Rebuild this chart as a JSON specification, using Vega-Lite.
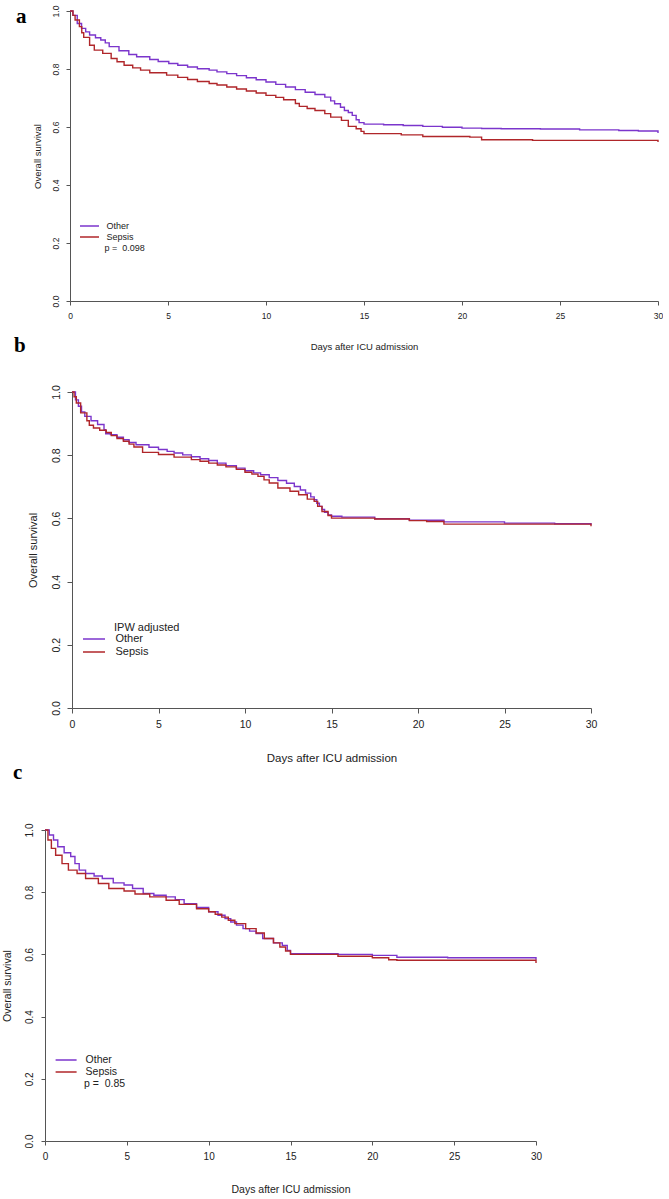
{
  "$schema": "https://vega.github.io/schema/vega-lite/v6.json",
  "padding": {"left": 2, "top": 5, "right": 0, "bottom": 0},
  "bounds": "flush",
  "spacing": 91,
  "resolve": {"scale": {"color": "independent"}, "legend": {"color": "independent"}},
  "config": {
    "view": {"stroke": null},
    "font": "Liberation Sans",
    "axis": {"grid": false, "domainColor": "#555", "tickColor": "#555", "labelColor": "#222", "titleColor": "#222", "titleFontWeight": "normal", "labelFont": "Liberation Sans", "titleFont": "Liberation Sans", "labelFlush": false, "labelOverlap": false}
  },
  "datasets": {
    "km": [
      {"panel":"a","group":"Other","day":0,"survival":1},
      {"panel":"a","group":"Other","day":0.15,"survival":0.985},
      {"panel":"a","group":"Other","day":0.37,"survival":0.957},
      {"panel":"a","group":"Other","day":0.59,"survival":0.94},
      {"panel":"a","group":"Other","day":0.8,"survival":0.928},
      {"panel":"a","group":"Other","day":1.0,"survival":0.917},
      {"panel":"a","group":"Other","day":1.3,"survival":0.908},
      {"panel":"a","group":"Other","day":1.57,"survival":0.9},
      {"panel":"a","group":"Other","day":1.8,"survival":0.89},
      {"panel":"a","group":"Other","day":2.0,"survival":0.877},
      {"panel":"a","group":"Other","day":2.5,"survival":0.863},
      {"panel":"a","group":"Other","day":3.0,"survival":0.85},
      {"panel":"a","group":"Other","day":3.4,"survival":0.842},
      {"panel":"a","group":"Other","day":4.07,"survival":0.833},
      {"panel":"a","group":"Other","day":4.5,"survival":0.826},
      {"panel":"a","group":"Other","day":5.04,"survival":0.819},
      {"panel":"a","group":"Other","day":5.5,"survival":0.813},
      {"panel":"a","group":"Other","day":6.0,"survival":0.807},
      {"panel":"a","group":"Other","day":6.5,"survival":0.801},
      {"panel":"a","group":"Other","day":7.1,"survival":0.796},
      {"panel":"a","group":"Other","day":7.5,"survival":0.79},
      {"panel":"a","group":"Other","day":8.0,"survival":0.784},
      {"panel":"a","group":"Other","day":8.5,"survival":0.777},
      {"panel":"a","group":"Other","day":9.0,"survival":0.77},
      {"panel":"a","group":"Other","day":9.5,"survival":0.763},
      {"panel":"a","group":"Other","day":10.0,"survival":0.755},
      {"panel":"a","group":"Other","day":10.5,"survival":0.747},
      {"panel":"a","group":"Other","day":11.0,"survival":0.738},
      {"panel":"a","group":"Other","day":11.5,"survival":0.729},
      {"panel":"a","group":"Other","day":12.0,"survival":0.72},
      {"panel":"a","group":"Other","day":12.5,"survival":0.712},
      {"panel":"a","group":"Other","day":13.0,"survival":0.703},
      {"panel":"a","group":"Other","day":13.3,"survival":0.69},
      {"panel":"a","group":"Other","day":13.5,"survival":0.68},
      {"panel":"a","group":"Other","day":13.8,"survival":0.668},
      {"panel":"a","group":"Other","day":14.0,"survival":0.657},
      {"panel":"a","group":"Other","day":14.2,"survival":0.65},
      {"panel":"a","group":"Other","day":14.4,"survival":0.64},
      {"panel":"a","group":"Other","day":14.6,"survival":0.625},
      {"panel":"a","group":"Other","day":14.75,"survival":0.615},
      {"panel":"a","group":"Other","day":15.0,"survival":0.61},
      {"panel":"a","group":"Other","day":16,"survival":0.608},
      {"panel":"a","group":"Other","day":17,"survival":0.605},
      {"panel":"a","group":"Other","day":18,"survival":0.602},
      {"panel":"a","group":"Other","day":19,"survival":0.599},
      {"panel":"a","group":"Other","day":20,"survival":0.596},
      {"panel":"a","group":"Other","day":21,"survival":0.595},
      {"panel":"a","group":"Other","day":22,"survival":0.594},
      {"panel":"a","group":"Other","day":24,"survival":0.593},
      {"panel":"a","group":"Other","day":26,"survival":0.59},
      {"panel":"a","group":"Other","day":28,"survival":0.588},
      {"panel":"a","group":"Other","day":29,"survival":0.586},
      {"panel":"a","group":"Other","day":30,"survival":0.586},
      {"panel":"a","group":"Other","day":30,"survival":0.579},
      {"panel":"a","group":"Sepsis","day":0,"survival":1},
      {"panel":"a","group":"Sepsis","day":0.15,"survival":0.985},
      {"panel":"a","group":"Sepsis","day":0.26,"survival":0.969},
      {"panel":"a","group":"Sepsis","day":0.48,"survival":0.946},
      {"panel":"a","group":"Sepsis","day":0.6,"survival":0.925},
      {"panel":"a","group":"Sepsis","day":0.7,"survival":0.909},
      {"panel":"a","group":"Sepsis","day":1.0,"survival":0.882},
      {"panel":"a","group":"Sepsis","day":1.24,"survival":0.865},
      {"panel":"a","group":"Sepsis","day":1.67,"survival":0.854},
      {"panel":"a","group":"Sepsis","day":2.1,"survival":0.836},
      {"panel":"a","group":"Sepsis","day":2.4,"survival":0.825},
      {"panel":"a","group":"Sepsis","day":2.76,"survival":0.813},
      {"panel":"a","group":"Sepsis","day":3.2,"survival":0.804},
      {"panel":"a","group":"Sepsis","day":3.6,"survival":0.796},
      {"panel":"a","group":"Sepsis","day":4.07,"survival":0.787},
      {"panel":"a","group":"Sepsis","day":4.93,"survival":0.779},
      {"panel":"a","group":"Sepsis","day":5.5,"survival":0.771},
      {"panel":"a","group":"Sepsis","day":6.0,"survival":0.764},
      {"panel":"a","group":"Sepsis","day":6.5,"survival":0.757},
      {"panel":"a","group":"Sepsis","day":7.1,"survival":0.75},
      {"panel":"a","group":"Sepsis","day":7.5,"survival":0.745},
      {"panel":"a","group":"Sepsis","day":8.0,"survival":0.738},
      {"panel":"a","group":"Sepsis","day":8.5,"survival":0.731},
      {"panel":"a","group":"Sepsis","day":9.0,"survival":0.724},
      {"panel":"a","group":"Sepsis","day":9.5,"survival":0.717},
      {"panel":"a","group":"Sepsis","day":10.0,"survival":0.709},
      {"panel":"a","group":"Sepsis","day":10.5,"survival":0.702},
      {"panel":"a","group":"Sepsis","day":10.9,"survival":0.694},
      {"panel":"a","group":"Sepsis","day":11.5,"survival":0.681},
      {"panel":"a","group":"Sepsis","day":11.7,"survival":0.671},
      {"panel":"a","group":"Sepsis","day":12.1,"survival":0.664},
      {"panel":"a","group":"Sepsis","day":12.5,"survival":0.657},
      {"panel":"a","group":"Sepsis","day":13.0,"survival":0.646},
      {"panel":"a","group":"Sepsis","day":13.3,"survival":0.634},
      {"panel":"a","group":"Sepsis","day":13.85,"survival":0.623},
      {"panel":"a","group":"Sepsis","day":14.2,"survival":0.602},
      {"panel":"a","group":"Sepsis","day":14.6,"survival":0.594},
      {"panel":"a","group":"Sepsis","day":14.85,"survival":0.585},
      {"panel":"a","group":"Sepsis","day":15.0,"survival":0.577},
      {"panel":"a","group":"Sepsis","day":16.9,"survival":0.573},
      {"panel":"a","group":"Sepsis","day":18,"survival":0.567},
      {"panel":"a","group":"Sepsis","day":20.4,"survival":0.565},
      {"panel":"a","group":"Sepsis","day":21.0,"survival":0.556},
      {"panel":"a","group":"Sepsis","day":23.6,"survival":0.554},
      {"panel":"a","group":"Sepsis","day":30,"survival":0.554},
      {"panel":"a","group":"Sepsis","day":30,"survival":0.548},
      {"panel":"b","group":"Other","day":0,"survival":1},
      {"panel":"b","group":"Other","day":0.2,"survival":0.975},
      {"panel":"b","group":"Other","day":0.37,"survival":0.955},
      {"panel":"b","group":"Other","day":0.55,"survival":0.937},
      {"panel":"b","group":"Other","day":0.74,"survival":0.923},
      {"panel":"b","group":"Other","day":1.1,"survival":0.909},
      {"panel":"b","group":"Other","day":1.48,"survival":0.897},
      {"panel":"b","group":"Other","day":1.85,"survival":0.881},
      {"panel":"b","group":"Other","day":1.95,"survival":0.868},
      {"panel":"b","group":"Other","day":2.22,"survival":0.865},
      {"panel":"b","group":"Other","day":2.6,"survival":0.857},
      {"panel":"b","group":"Other","day":2.97,"survival":0.849},
      {"panel":"b","group":"Other","day":3.3,"survival":0.84},
      {"panel":"b","group":"Other","day":3.7,"survival":0.833},
      {"panel":"b","group":"Other","day":4.45,"survival":0.825},
      {"panel":"b","group":"Other","day":5.0,"survival":0.818},
      {"panel":"b","group":"Other","day":5.5,"survival":0.812},
      {"panel":"b","group":"Other","day":5.9,"survival":0.807},
      {"panel":"b","group":"Other","day":6.4,"survival":0.801},
      {"panel":"b","group":"Other","day":6.9,"survival":0.795},
      {"panel":"b","group":"Other","day":7.4,"survival":0.789},
      {"panel":"b","group":"Other","day":7.9,"survival":0.783},
      {"panel":"b","group":"Other","day":8.4,"survival":0.775},
      {"panel":"b","group":"Other","day":8.9,"survival":0.767},
      {"panel":"b","group":"Other","day":9.5,"survival":0.759},
      {"panel":"b","group":"Other","day":10.0,"survival":0.751},
      {"panel":"b","group":"Other","day":10.5,"survival":0.744},
      {"panel":"b","group":"Other","day":10.9,"survival":0.738},
      {"panel":"b","group":"Other","day":11.4,"survival":0.729},
      {"panel":"b","group":"Other","day":11.9,"survival":0.72},
      {"panel":"b","group":"Other","day":12.4,"survival":0.711},
      {"panel":"b","group":"Other","day":12.85,"survival":0.701},
      {"panel":"b","group":"Other","day":13.2,"survival":0.69},
      {"panel":"b","group":"Other","day":13.5,"survival":0.68},
      {"panel":"b","group":"Other","day":13.8,"survival":0.668},
      {"panel":"b","group":"Other","day":14.0,"survival":0.659},
      {"panel":"b","group":"Other","day":14.15,"survival":0.648},
      {"panel":"b","group":"Other","day":14.3,"survival":0.638},
      {"panel":"b","group":"Other","day":14.45,"survival":0.628},
      {"panel":"b","group":"Other","day":14.6,"survival":0.619},
      {"panel":"b","group":"Other","day":14.8,"survival":0.611},
      {"panel":"b","group":"Other","day":15.0,"survival":0.607},
      {"panel":"b","group":"Other","day":15.6,"survival":0.604},
      {"panel":"b","group":"Other","day":17.5,"survival":0.599},
      {"panel":"b","group":"Other","day":19.5,"survival":0.594},
      {"panel":"b","group":"Other","day":21.5,"survival":0.589},
      {"panel":"b","group":"Other","day":25,"survival":0.585},
      {"panel":"b","group":"Other","day":27.9,"survival":0.583},
      {"panel":"b","group":"Other","day":30,"survival":0.58},
      {"panel":"b","group":"Sepsis","day":0,"survival":1},
      {"panel":"b","group":"Sepsis","day":0.12,"survival":0.985},
      {"panel":"b","group":"Sepsis","day":0.25,"survival":0.965},
      {"panel":"b","group":"Sepsis","day":0.5,"survival":0.934},
      {"panel":"b","group":"Sepsis","day":0.86,"survival":0.909},
      {"panel":"b","group":"Sepsis","day":1.0,"survival":0.895},
      {"panel":"b","group":"Sepsis","day":1.24,"survival":0.886},
      {"panel":"b","group":"Sepsis","day":1.6,"survival":0.879},
      {"panel":"b","group":"Sepsis","day":1.98,"survival":0.872},
      {"panel":"b","group":"Sepsis","day":2.27,"survival":0.862},
      {"panel":"b","group":"Sepsis","day":2.6,"survival":0.853},
      {"panel":"b","group":"Sepsis","day":2.97,"survival":0.844},
      {"panel":"b","group":"Sepsis","day":3.3,"survival":0.835},
      {"panel":"b","group":"Sepsis","day":3.58,"survival":0.826},
      {"panel":"b","group":"Sepsis","day":4.08,"survival":0.809},
      {"panel":"b","group":"Sepsis","day":5.0,"survival":0.802},
      {"panel":"b","group":"Sepsis","day":5.9,"survival":0.794},
      {"panel":"b","group":"Sepsis","day":6.9,"survival":0.786},
      {"panel":"b","group":"Sepsis","day":7.4,"survival":0.781},
      {"panel":"b","group":"Sepsis","day":7.9,"survival":0.775},
      {"panel":"b","group":"Sepsis","day":8.4,"survival":0.769},
      {"panel":"b","group":"Sepsis","day":8.9,"survival":0.763},
      {"panel":"b","group":"Sepsis","day":9.5,"survival":0.755},
      {"panel":"b","group":"Sepsis","day":10.0,"survival":0.746},
      {"panel":"b","group":"Sepsis","day":10.4,"survival":0.74},
      {"panel":"b","group":"Sepsis","day":10.75,"survival":0.733},
      {"panel":"b","group":"Sepsis","day":11.1,"survival":0.722},
      {"panel":"b","group":"Sepsis","day":11.4,"survival":0.712},
      {"panel":"b","group":"Sepsis","day":11.9,"survival":0.696},
      {"panel":"b","group":"Sepsis","day":12.6,"survival":0.686},
      {"panel":"b","group":"Sepsis","day":13.1,"survival":0.675},
      {"panel":"b","group":"Sepsis","day":13.6,"survival":0.661},
      {"panel":"b","group":"Sepsis","day":14.0,"survival":0.654},
      {"panel":"b","group":"Sepsis","day":14.2,"survival":0.638},
      {"panel":"b","group":"Sepsis","day":14.45,"survival":0.622},
      {"panel":"b","group":"Sepsis","day":14.8,"survival":0.609},
      {"panel":"b","group":"Sepsis","day":15.0,"survival":0.601},
      {"panel":"b","group":"Sepsis","day":17.5,"survival":0.598},
      {"panel":"b","group":"Sepsis","day":19.5,"survival":0.593},
      {"panel":"b","group":"Sepsis","day":20.5,"survival":0.59},
      {"panel":"b","group":"Sepsis","day":21.5,"survival":0.582},
      {"panel":"b","group":"Sepsis","day":30,"survival":0.58},
      {"panel":"b","group":"Sepsis","day":30,"survival":0.575},
      {"panel":"c","group":"Other","day":0,"survival":1},
      {"panel":"c","group":"Other","day":0.26,"survival":0.984},
      {"panel":"c","group":"Other","day":0.52,"survival":0.968},
      {"panel":"c","group":"Other","day":0.78,"survival":0.946},
      {"panel":"c","group":"Other","day":1.17,"survival":0.927},
      {"panel":"c","group":"Other","day":1.57,"survival":0.915},
      {"panel":"c","group":"Other","day":1.83,"survival":0.892},
      {"panel":"c","group":"Other","day":2.09,"survival":0.871},
      {"panel":"c","group":"Other","day":2.48,"survival":0.86},
      {"panel":"c","group":"Other","day":3.0,"survival":0.852},
      {"panel":"c","group":"Other","day":3.5,"survival":0.844},
      {"panel":"c","group":"Other","day":4.17,"survival":0.83},
      {"panel":"c","group":"Other","day":4.83,"survival":0.823},
      {"panel":"c","group":"Other","day":5.35,"survival":0.812},
      {"panel":"c","group":"Other","day":6.0,"survival":0.796},
      {"panel":"c","group":"Other","day":6.65,"survival":0.79},
      {"panel":"c","group":"Other","day":7.4,"survival":0.785},
      {"panel":"c","group":"Other","day":7.96,"survival":0.776},
      {"panel":"c","group":"Other","day":8.5,"survival":0.763},
      {"panel":"c","group":"Other","day":9.26,"survival":0.751},
      {"panel":"c","group":"Other","day":10.0,"survival":0.737},
      {"panel":"c","group":"Other","day":10.57,"survival":0.726},
      {"panel":"c","group":"Other","day":11.0,"survival":0.715},
      {"panel":"c","group":"Other","day":11.35,"survival":0.704},
      {"panel":"c","group":"Other","day":11.7,"survival":0.694},
      {"panel":"c","group":"Other","day":12.1,"survival":0.683},
      {"panel":"c","group":"Other","day":12.5,"survival":0.675},
      {"panel":"c","group":"Other","day":12.9,"survival":0.667},
      {"panel":"c","group":"Other","day":13.3,"survival":0.651},
      {"panel":"c","group":"Other","day":13.96,"survival":0.637},
      {"panel":"c","group":"Other","day":14.5,"survival":0.629},
      {"panel":"c","group":"Other","day":14.8,"survival":0.613},
      {"panel":"c","group":"Other","day":15.0,"survival":0.602},
      {"panel":"c","group":"Other","day":17.9,"survival":0.6},
      {"panel":"c","group":"Other","day":20,"survival":0.597},
      {"panel":"c","group":"Other","day":21.5,"survival":0.591},
      {"panel":"c","group":"Other","day":24.6,"survival":0.589},
      {"panel":"c","group":"Other","day":30,"survival":0.589},
      {"panel":"c","group":"Other","day":30,"survival":0.583},
      {"panel":"c","group":"Sepsis","day":0,"survival":1},
      {"panel":"c","group":"Sepsis","day":0.18,"survival":0.968},
      {"panel":"c","group":"Sepsis","day":0.39,"survival":0.941},
      {"panel":"c","group":"Sepsis","day":0.65,"survival":0.919},
      {"panel":"c","group":"Sepsis","day":1.04,"survival":0.892},
      {"panel":"c","group":"Sepsis","day":1.43,"survival":0.871},
      {"panel":"c","group":"Sepsis","day":1.96,"survival":0.86},
      {"panel":"c","group":"Sepsis","day":2.48,"survival":0.844},
      {"panel":"c","group":"Sepsis","day":3.26,"survival":0.828},
      {"panel":"c","group":"Sepsis","day":3.9,"survival":0.812},
      {"panel":"c","group":"Sepsis","day":4.83,"survival":0.804},
      {"panel":"c","group":"Sepsis","day":5.5,"survival":0.794},
      {"panel":"c","group":"Sepsis","day":6.4,"survival":0.785},
      {"panel":"c","group":"Sepsis","day":7.4,"survival":0.774},
      {"panel":"c","group":"Sepsis","day":8.2,"survival":0.761},
      {"panel":"c","group":"Sepsis","day":9.26,"survival":0.747},
      {"panel":"c","group":"Sepsis","day":10.0,"survival":0.737},
      {"panel":"c","group":"Sepsis","day":10.4,"survival":0.729},
      {"panel":"c","group":"Sepsis","day":10.8,"survival":0.72},
      {"panel":"c","group":"Sepsis","day":11.2,"survival":0.71},
      {"panel":"c","group":"Sepsis","day":11.6,"survival":0.699},
      {"panel":"c","group":"Sepsis","day":12.26,"survival":0.683},
      {"panel":"c","group":"Sepsis","day":12.9,"survival":0.669},
      {"panel":"c","group":"Sepsis","day":13.4,"survival":0.651},
      {"panel":"c","group":"Sepsis","day":13.96,"survival":0.637},
      {"panel":"c","group":"Sepsis","day":14.35,"survival":0.624},
      {"panel":"c","group":"Sepsis","day":14.7,"survival":0.611},
      {"panel":"c","group":"Sepsis","day":15.0,"survival":0.6},
      {"panel":"c","group":"Sepsis","day":17.9,"survival":0.594},
      {"panel":"c","group":"Sepsis","day":20,"survival":0.589},
      {"panel":"c","group":"Sepsis","day":21,"survival":0.583},
      {"panel":"c","group":"Sepsis","day":21.5,"survival":0.581},
      {"panel":"c","group":"Sepsis","day":30,"survival":0.581},
      {"panel":"c","group":"Sepsis","day":30,"survival":0.572}
    ]
  },
  "vconcat": [
    {
      "width": 613,
      "height": 290,
      "title": {"text": "a", "anchor": "start", "frame": "group", "offset": 0, "dx": -29, "dy": 39, "baseline": "alphabetic", "font": "Liberation Serif", "fontSize": 21, "fontWeight": "bold", "color": "#000"},
      "layer": [
        {
          "data": {"name": "km"},
          "transform": [{"filter": "datum.panel === 'a'"}],
          "mark": {"type": "line", "interpolate": "step-after", "strokeWidth": 1.4},
          "encoding": {
            "x": {"field": "day", "type": "quantitative", "scale": {"domain": [0, 30], "range": [25, 613], "nice": false, "zero": false},
                  "axis": {"values": [0, 5, 10, 15, 20, 25, 30], "title": "Days after ICU admission", "tickSize": 4, "labelFontSize": 8.5, "titleFontSize": 9.5, "labelPadding": 6, "titlePadding": 22}},
            "y": {"field": "survival", "type": "quantitative", "scale": {"domain": [0, 1], "nice": false},
                  "axis": {"values": [0, 0.2, 0.4, 0.6, 0.8, 1], "format": ".1f", "title": "Overall survival", "offset": -25, "tickSize": 4, "labelFontSize": 8.5, "labelAngle": 270, "labelAlign": "center", "labelBaseline": "bottom", "labelPadding": 6, "titleFontSize": 9.5, "titlePadding": 9}},
            "color": {"field": "group", "type": "nominal", "scale": {"domain": ["Other", "Sepsis"], "range": ["#7b35cc", "#b0262a"]},
                      "legend": {"orient": "none", "legendX": 34, "legendY": 209.5, "title": null, "padding": 0, "symbolType": "stroke", "symbolSize": 361, "symbolStrokeWidth": 1.4, "labelFontSize": 9, "labelColor": "#222", "labelOffset": 6.5, "clipHeight": 11, "rowPadding": 0}}
          }
        },
        {
          "data": {"values": [{}]},
          "mark": {"type": "text", "align": "left", "baseline": "middle", "fontSize": 9, "color": "#222"},
          "encoding": {"x": {"datum": 1.76, "type": "quantitative"}, "y": {"datum": 0.183, "type": "quantitative"}, "text": {"value": "p = \u00a00.098"}}
        }
      ]
    },
    {
      "width": 546,
      "height": 316,
      "title": {"text": "b", "anchor": "start", "frame": "group", "offset": 0, "dx": -31, "dy": -12, "baseline": "alphabetic", "font": "Liberation Serif", "fontSize": 21, "fontWeight": "bold", "color": "#000"},
      "layer": [
        {
          "data": {"name": "km"},
          "transform": [{"filter": "datum.panel === 'b'"}],
          "mark": {"type": "line", "interpolate": "step-after", "strokeWidth": 1.4},
          "encoding": {
            "x": {"field": "day", "type": "quantitative", "scale": {"domain": [0, 30], "range": [27, 546], "nice": false, "zero": false},
                  "axis": {"values": [0, 5, 10, 15, 20, 25, 30], "title": "Days after ICU admission", "tickSize": 5, "labelFontSize": 10.5, "titleFontSize": 11.5, "labelPadding": 6, "titlePadding": 23}},
            "y": {"field": "survival", "type": "quantitative", "scale": {"domain": [0, 1], "nice": false},
                  "axis": {"values": [0, 0.2, 0.4, 0.6, 0.8, 1], "format": ".1f", "title": "Overall survival", "offset": -27, "tickSize": 5, "labelFontSize": 10.5, "labelAngle": 270, "labelAlign": "center", "labelBaseline": "bottom", "labelPadding": 6, "titleFontSize": 11, "titlePadding": 13}},
            "color": {"field": "group", "type": "nominal", "scale": {"domain": ["Other", "Sepsis"], "range": ["#7b35cc", "#b0262a"]},
                      "legend": {"orient": "none", "legendX": 37, "legendY": 240.5, "title": null, "padding": 0, "symbolType": "stroke", "symbolSize": 484, "symbolStrokeWidth": 1.4, "labelFontSize": 11, "labelColor": "#222", "labelOffset": 9.5, "clipHeight": 13, "rowPadding": 0}}
          }
        },
        {
          "data": {"values": [{}]},
          "mark": {"type": "text", "align": "left", "baseline": "middle", "fontSize": 11, "color": "#222"},
          "encoding": {"x": {"datum": 2.43, "type": "quantitative"}, "y": {"datum": 0.254, "type": "quantitative"}, "text": {"value": "IPW adjusted"}}
        }
      ]
    },
    {
      "width": 491,
      "height": 342,
      "title": {"text": "c", "anchor": "start", "frame": "group", "offset": 0, "dx": -32, "dy": 1, "baseline": "alphabetic", "font": "Liberation Serif", "fontSize": 21, "fontWeight": "bold", "color": "#000"},
      "layer": [
        {
          "data": {"name": "km"},
          "transform": [{"filter": "datum.panel === 'c'"}],
          "mark": {"type": "line", "interpolate": "step-after", "strokeWidth": 1.4},
          "encoding": {
            "x": {"field": "day", "type": "quantitative", "scale": {"domain": [0, 30], "nice": false, "zero": false},
                  "axis": {"values": [0, 5, 10, 15, 20, 25, 30], "title": "Days after ICU admission", "tickSize": 4, "labelFontSize": 10, "titleFontSize": 10.5, "labelPadding": 6.5, "titlePadding": 23}},
            "y": {"field": "survival", "type": "quantitative", "scale": {"domain": [0, 1], "nice": false, "range": [342, 31]},
                  "axis": {"values": [0, 0.2, 0.4, 0.6, 0.8, 1], "format": ".1f", "title": "Overall survival", "tickSize": 4, "labelFontSize": 10, "labelAngle": 270, "labelAlign": "center", "labelBaseline": "bottom", "labelPadding": 7, "titleFontSize": 10.5, "titlePadding": 12}},
            "color": {"field": "group", "type": "nominal", "scale": {"domain": ["Other", "Sepsis"], "range": ["#7b35cc", "#b0262a"]},
                      "legend": {"orient": "none", "legendX": 9.6, "legendY": 255, "title": null, "padding": 0, "symbolType": "stroke", "symbolSize": 441, "symbolStrokeWidth": 1.4, "labelFontSize": 10.5, "labelColor": "#222", "labelOffset": 8, "clipHeight": 12, "rowPadding": 0}}
          }
        },
        {
          "data": {"values": [{}]},
          "mark": {"type": "text", "align": "left", "baseline": "middle", "fontSize": 10.5, "color": "#222"},
          "encoding": {"x": {"datum": 2.38, "type": "quantitative"}, "y": {"datum": 0.183, "type": "quantitative"}, "text": {"value": "p = \u00a00.85"}}
        }
      ]
    }
  ]
}
